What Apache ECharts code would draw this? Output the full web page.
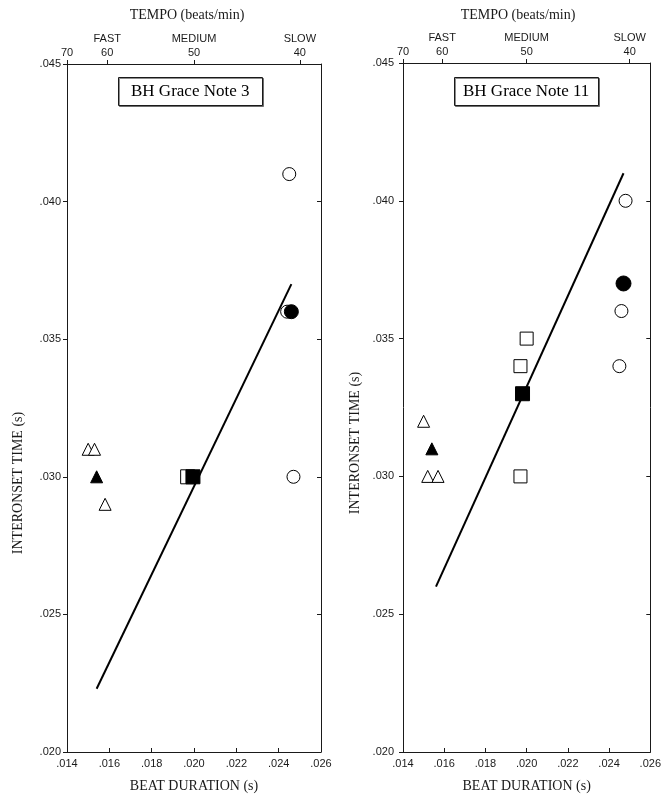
<!DOCTYPE html>
<html>
<head>
<meta charset="utf-8">
<script src="https://cdn.jsdelivr.net/npm/echarts@6/dist/echarts.min.js"></script>
<style>
  html, body { margin: 0; background: #fff; }
  #chart { width: 664px; height: 801px; }
</style>
</head>
<body>
<div id="chart"></div>
<script>
// axis ticks
const beatTicks = [0.014, 0.016, 0.018, 0.020, 0.022, 0.024, 0.026]
const ioiTicks = [0.020, 0.025, 0.030, 0.035, 0.040, 0.045]
// tempo axis (beats/min) sits on top, placed at the beat duration it matches
const tempoPos = [0.014, 0.0159, 0.0200, 0.0250]
const tempoLabels = ['70', '60', '50', '40']
const tempoWords = ['', 'FAST', 'MEDIUM', 'SLOW']

// BH Grace Note 3  [beat duration, interonset time]
const gn3OpenCircle = [[0.0245, 0.041], [0.0244, 0.036], [0.0247, 0.030]]
const gn3FillCircle = [[0.0246, 0.036]]
const gn3OpenSquare = [[0.0197, 0.030]]
const gn3FillSquare = [[0.01995, 0.030]]
const gn3OpenTriangle = [[0.0150, 0.031], [0.0153, 0.031], [0.0158, 0.029]]
const gn3FillTriangle = [[0.0154, 0.030]]
const gn3Fit = [[0.0154, 0.0223], [0.0246, 0.0370]]

// BH Grace Note 11
const gn11OpenCircle = [[0.0248, 0.040], [0.0246, 0.036], [0.0245, 0.034]]
const gn11FillCircle = [[0.0247, 0.037]]
const gn11OpenSquare = [[0.0200, 0.035], [0.0197, 0.034], [0.0197, 0.030]]
const gn11FillSquare = [[0.0198, 0.033]]
const gn11OpenTriangle = [[0.0150, 0.032], [0.0152, 0.030], [0.0157, 0.030]]
const gn11FillTriangle = [[0.0154, 0.031]]
const gn11Fit = [[0.0156, 0.026], [0.0247, 0.041]]

const serif = '"Liberation Serif", "DejaVu Serif", serif'
const sans = '"Liberation Sans", Arial, sans-serif'
const ink = '#1a1a1a'

const fmt = v => v.toFixed(3).replace(/^0/, '')

const chart = echarts.init(document.getElementById('chart'))

const lineStyle = { color: ink, width: 1 }

const bottomAxis = (grid) => ({
  type: 'value',
  gridIndex: grid,
  position: 'bottom',
  min: beatTicks[0],
  max: beatTicks[beatTicks.length - 1],
  interval: 0.002,
  name: 'BEAT DURATION (s)',
  nameLocation: 'middle',
  nameGap: 27,
  nameTextStyle: { fontFamily: serif, fontSize: 14, color: ink },
  axisLine: { onZero: false, lineStyle },
  axisTick: { inside: true, length: 4, lineStyle },
  axisLabel: { formatter: fmt, margin: 6, fontFamily: sans, fontSize: 11, color: ink, showMinLabel: true, showMaxLabel: true },
  splitLine: { show: false }
})

const topAxis = (grid) => ({
  type: 'value',
  gridIndex: grid,
  position: 'top',
  min: beatTicks[0],
  max: beatTicks[beatTicks.length - 1],
  axisLine: { onZero: false, lineStyle },
  axisTick: { customValues: tempoPos, length: 4, lineStyle },
  axisLabel: {
    customValues: tempoPos,
    margin: 4,
    formatter: (v) => {
      const i = tempoPos.findIndex(p => Math.abs(p - v) < 1e-7)
      if (i < 0) return ''
      return tempoWords[i] ? '{w|' + tempoWords[i] + '}\n{n|' + tempoLabels[i] + '}' : '{n|' + tempoLabels[i] + '}'
    },
    rich: {
      w: { fontFamily: sans, fontSize: 11, color: ink, lineHeight: 15 },
      n: { fontFamily: sans, fontSize: 11, color: ink, lineHeight: 14 }
    }
  },
  splitLine: { show: false }
})

const leftAxis = (grid, margin) => ({
  type: 'value',
  gridIndex: grid,
  position: 'left',
  min: ioiTicks[0],
  max: ioiTicks[ioiTicks.length - 1],
  interval: 0.005,
  axisLine: { onZero: false, lineStyle },
  axisTick: { length: 4, lineStyle },
  axisLabel: { formatter: fmt, margin, fontFamily: sans, fontSize: 11, color: ink, showMinLabel: true, showMaxLabel: true },
  splitLine: { show: false }
})

const rightAxis = (grid) => ({
  type: 'value',
  gridIndex: grid,
  position: 'right',
  min: ioiTicks[0],
  max: ioiTicks[ioiTicks.length - 1],
  interval: 0.005,
  axisLine: { onZero: false, lineStyle },
  axisTick: { inside: true, length: 4, lineStyle },
  axisLabel: { show: false },
  splitLine: { show: false }
})

const dots = (name, data, symbol, filled, size, grid, z) => ({
  name,
  type: 'scatter',
  xAxisIndex: grid * 2,
  yAxisIndex: grid * 2,
  data,
  symbol,
  symbolSize: size,
  z,
  itemStyle: {
    color: filled ? '#000' : '#fff',
    borderColor: '#000',
    borderWidth: 1,
    opacity: 1
  }
})

const fit = (name, data, grid) => ({
  name,
  type: 'line',
  xAxisIndex: grid * 2,
  yAxisIndex: grid * 2,
  data,
  showSymbol: false,
  symbol: 'none',
  z: 3,
  lineStyle: { color: '#000', width: 2 }
})

// boxed panel titles
const panelTitle = (text, left, pad) => ({
  text,
  left,
  top: 77,
  padding: [6, pad, 6, pad],
  borderColor: ink,
  borderWidth: 1,
  shadowColor: 'rgba(0,0,0,0.45)',
  shadowOffsetX: 1,
  shadowOffsetY: 1,
  backgroundColor: '#fff',
  textStyle: { fontFamily: serif, fontSize: 17, fontWeight: 'normal', color: '#000' }
})

const option = {
  backgroundColor: '#fff',
  animation: false,
  title: [
    panelTitle('BH Grace Note 3', 118, 13),
    panelTitle('BH Grace Note 11', 454, 9)
  ],
  grid: [
    { left: 67, top: 64, width: 254, height: 688 },
    { left: 403, top: 63, width: 254, height: 689 }
  ],
  xAxis: [bottomAxis(0), topAxis(0), bottomAxis(1), topAxis(1)],
  yAxis: [leftAxis(0, 6), rightAxis(0), leftAxis(1, 9), rightAxis(1)],
  graphic: [
    { type: 'text', x: 187, y: 15, style: { text: 'TEMPO (beats/min)', font: '14px ' + serif, fill: ink, align: 'center', verticalAlign: 'middle' } },
    { type: 'text', x: 518, y: 15, style: { text: 'TEMPO (beats/min)', font: '14px ' + serif, fill: ink, align: 'center', verticalAlign: 'middle' } },
    { type: 'text', x: 18, y: 483, rotation: Math.PI / 2, style: { text: 'INTERONSET TIME (s)', font: '14px ' + serif, fill: ink, align: 'center', verticalAlign: 'middle' } },
    { type: 'text', x: 355, y: 443, rotation: Math.PI / 2, style: { text: 'INTERONSET TIME (s)', font: '14px ' + serif, fill: ink, align: 'center', verticalAlign: 'middle' } }
  ],
  series: [
    fit('Grace Note 3 fit', gn3Fit, 0),
    dots('GN3 slow', gn3OpenCircle, 'circle', false, 13, 0, 4),
    dots('GN3 slow mean', gn3FillCircle, 'circle', true, 14, 0, 5),
    dots('GN3 medium', gn3OpenSquare, 'rect', false, 14, 0, 4),
    dots('GN3 medium mean', gn3FillSquare, 'rect', true, 14, 0, 5),
    dots('GN3 fast', gn3OpenTriangle, 'triangle', false, 12, 0, 4),
    dots('GN3 fast mean', gn3FillTriangle, 'triangle', true, 12, 0, 5),

    fit('Grace Note 11 fit', gn11Fit, 1),
    dots('GN11 slow', gn11OpenCircle, 'circle', false, 13, 1, 4),
    dots('GN11 slow mean', gn11FillCircle, 'circle', true, 15, 1, 5),
    dots('GN11 medium', gn11OpenSquare, 'rect', false, 13, 1, 4),
    dots('GN11 medium mean', gn11FillSquare, 'rect', true, 14, 1, 5),
    dots('GN11 fast', gn11OpenTriangle, 'triangle', false, 12, 1, 4),
    dots('GN11 fast mean', gn11FillTriangle, 'triangle', true, 12, 1, 5)
  ]
}

chart.setOption(option)
</script>
</body>
</html>
